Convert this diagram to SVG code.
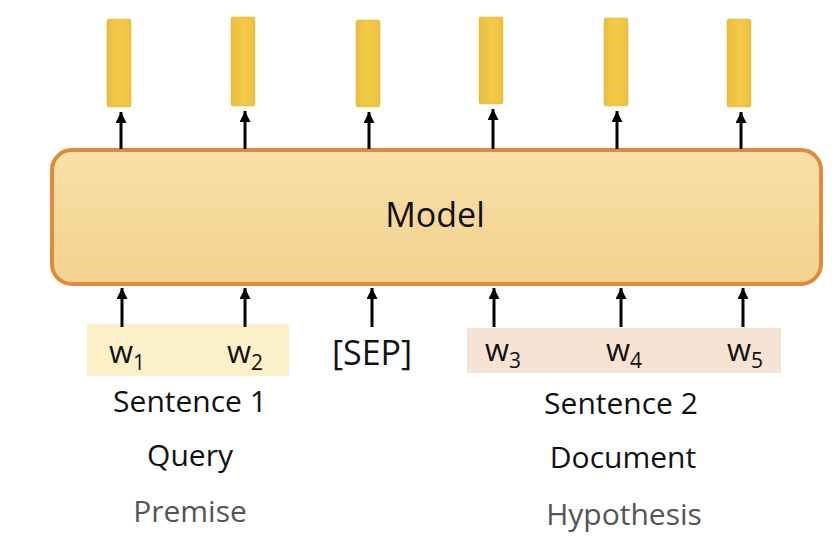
<svg xmlns="http://www.w3.org/2000/svg" width="832" height="537" viewBox="0 0 832 537">
<defs>
<linearGradient id="gModel" x1="0" y1="0" x2="0" y2="1">
<stop offset="0" stop-color="#F8E0A8"/>
<stop offset="1" stop-color="#F3D28E"/>
</linearGradient>
<linearGradient id="gBar" x1="0" y1="0" x2="1" y2="0">
<stop offset="0" stop-color="#E9BE3C"/>
<stop offset="0.5" stop-color="#F3CB48"/>
<stop offset="1" stop-color="#EDC241"/>
</linearGradient>
<marker id="ah" viewBox="0 0 10 10" refX="10" refY="5" markerWidth="11" markerHeight="11" markerUnits="userSpaceOnUse" orient="auto">
<path d="M0,0 L10,5 L0,10 Z" fill="#000"/>
</marker>
</defs>
<style>
.bar{fill:url(#gBar);stroke:#D9B03A;stroke-width:0.5}
.t{font-family:"Open Sans",Lato,"Liberation Sans",sans-serif;fill:#111}
.lbl{font-size:30px;text-anchor:middle}
.gray{fill:#555}
.w{font-size:31px}
.sub{font-size:21px}
.arr{stroke:#000;stroke-width:3;fill:none;marker-end:url(#ah)}
</style>
<rect width="832" height="537" fill="#fff"/>
<g id="outputs">
<rect class="bar" x="107" y="19" width="24" height="88" rx="2"/>
<rect class="bar" x="231" y="17" width="24" height="89" rx="2"/>
<rect class="bar" x="356" y="20" width="24" height="87" rx="2"/>
<rect class="bar" x="479" y="17" width="24" height="87" rx="2"/>
<rect class="bar" x="604" y="18" width="24" height="88" rx="2"/>
<rect class="bar" x="727" y="19" width="24" height="88" rx="2"/>
</g>
<g id="model">
<rect x="52" y="150" width="769" height="134" rx="20" fill="url(#gModel)" stroke="#E08A3E" stroke-width="4"/>
<text class="t" x="435" y="227" font-size="34" text-anchor="middle">Model</text>
</g>
<g id="sentence1">
<rect x="87" y="324" width="202" height="52" fill="#FCF0C9"/>
<text class="t w" x="109" y="363">w<tspan class="sub" dy="7">1</tspan></text>
<text class="t w" x="227" y="363">w<tspan class="sub" dy="7">2</tspan></text>
<text class="t lbl" x="190" y="412">Sentence 1</text>
<text class="t lbl" x="190" y="466">Query</text>
<text class="t lbl gray" x="190" y="522">Premise</text>
</g>
<g id="sep">
<text class="t" x="372" y="365" font-size="34" text-anchor="middle">[SEP]</text>
</g>
<g id="sentence2">
<rect x="467" y="328" width="314" height="45" fill="#F7E3D3"/>
<text class="t w" x="485" y="361">w<tspan class="sub" dy="7">3</tspan></text>
<text class="t w" x="606" y="361">w<tspan class="sub" dy="7">4</tspan></text>
<text class="t w" x="727" y="361">w<tspan class="sub" dy="7">5</tspan></text>
<text class="t lbl" x="621" y="414">Sentence 2</text>
<text class="t lbl" x="623" y="468">Document</text>
<text class="t lbl gray" x="624" y="525">Hypothesis</text>
</g>
<g id="connectors">
<line class="arr" x1="121" y1="149" x2="121" y2="112"/>
<line class="arr" x1="245" y1="149" x2="245" y2="111"/>
<line class="arr" x1="369" y1="149" x2="369" y2="112"/>
<line class="arr" x1="493" y1="149" x2="493" y2="109"/>
<line class="arr" x1="617" y1="149" x2="617" y2="111"/>
<line class="arr" x1="741" y1="149" x2="741" y2="112"/>
<line class="arr" x1="122" y1="327" x2="122" y2="288"/>
<line class="arr" x1="245" y1="327" x2="245" y2="288"/>
<line class="arr" x1="372" y1="327" x2="372" y2="288"/>
<line class="arr" x1="494" y1="327" x2="494" y2="288"/>
<line class="arr" x1="621" y1="327" x2="621" y2="288"/>
<line class="arr" x1="743" y1="327" x2="743" y2="288"/>
</g>
</svg>
